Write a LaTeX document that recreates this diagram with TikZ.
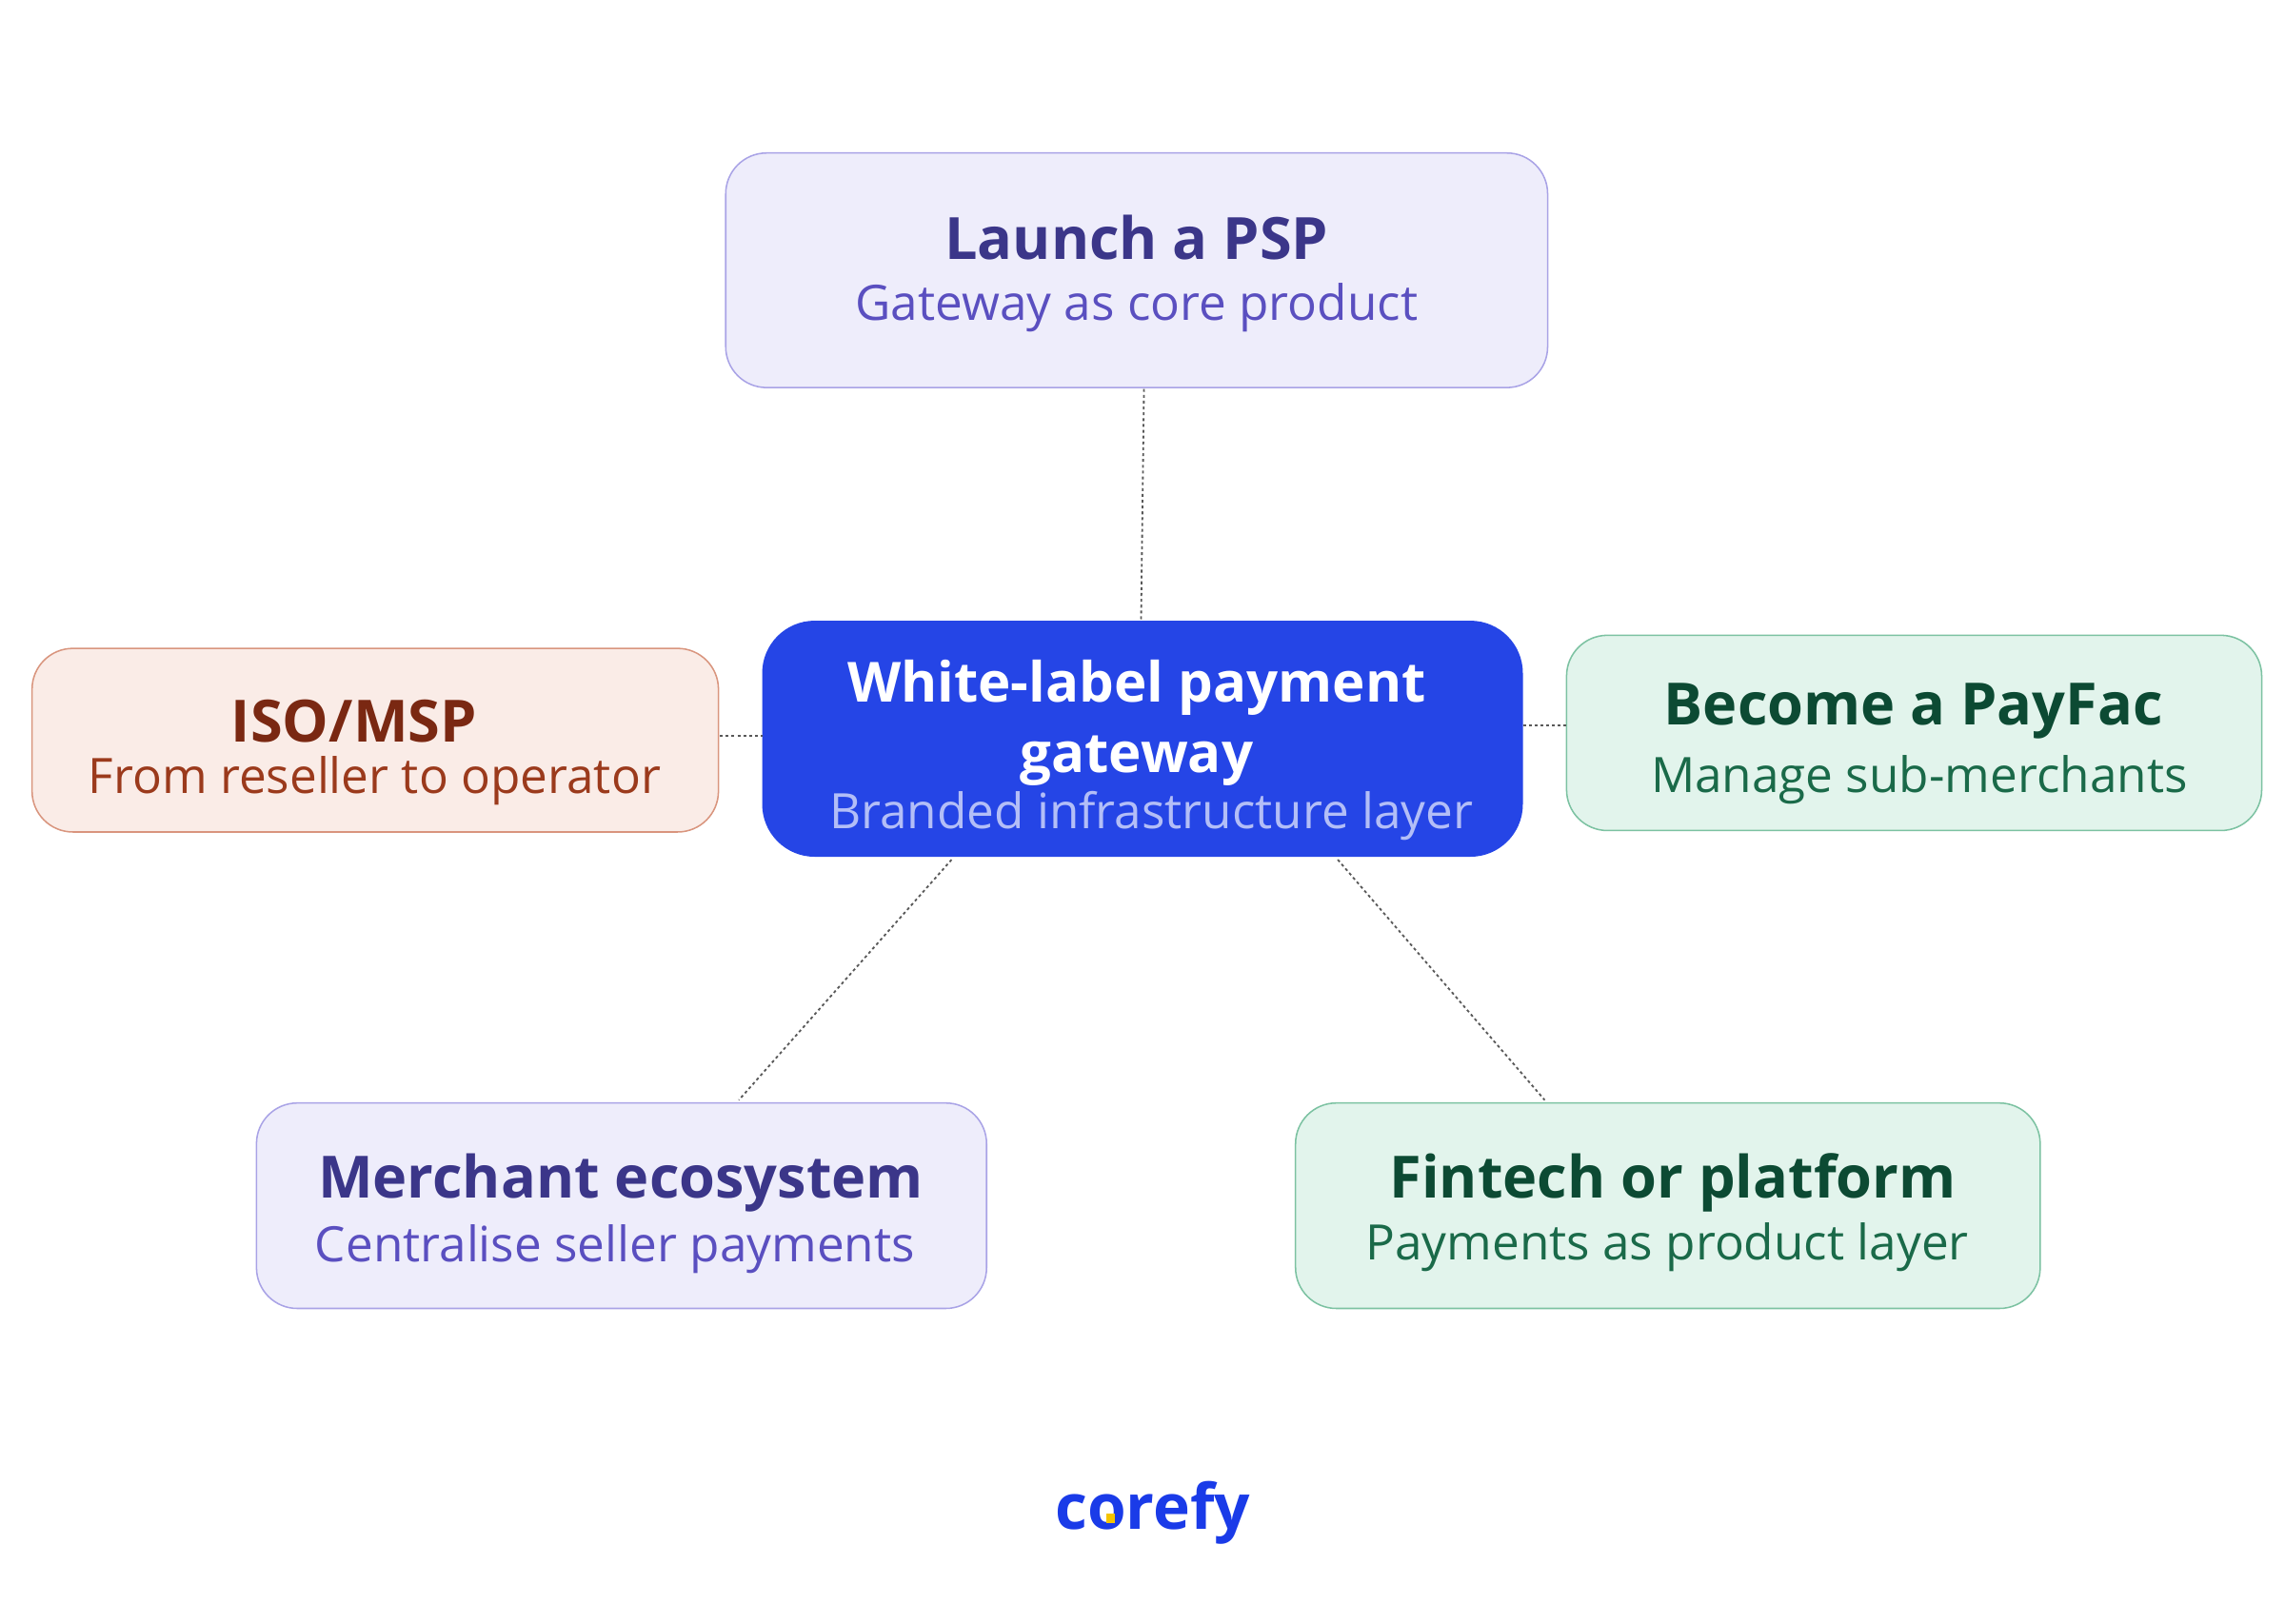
\documentclass[tikz,border=0pt]{standalone}
\usepackage{fontspec}
\setmainfont{Open Sans}
\definecolor{pfill}{HTML}{EEEDFB}\definecolor{pdraw}{HTML}{A9A3E6}
\definecolor{ptitle}{HTML}{3B3689}\definecolor{psub}{HTML}{5A4FC0}
\definecolor{gfill}{HTML}{E2F4EC}\definecolor{gdraw}{HTML}{7CC2A2}
\definecolor{gtitle}{HTML}{0C4A33}\definecolor{gsub}{HTML}{1A6A49}
\definecolor{ofill}{HTML}{FAECE7}\definecolor{odraw}{HTML}{D9957E}
\definecolor{otitle}{HTML}{7A2812}\definecolor{osub}{HTML}{9B3A1C}
\definecolor{cfill}{HTML}{2545E6}\definecolor{csub}{HTML}{B3BEF7}
\definecolor{logo}{HTML}{1A3BE8}\definecolor{dot}{HTML}{F5C400}
\begin{document}
\begin{tikzpicture}[x=1pt,y=-1pt,
  box/.style={rectangle,rounded corners=28pt,line width=1pt,inner sep=0pt},
  ttl/.style={font=\fontsize{40}{46}\selectfont\bfseries},
  sub/.style={font=\fontsize{33.5}{38}\selectfont},
  link/.style={draw=gray!70!black,line width=1.2pt,dash pattern=on 2pt off 2pt}]
\useasboundingbox (0,0) rectangle (1568,1114);
\node[box,fill=pfill,draw=pdraw,minimum width=564pt,minimum height=161pt] (psp) at (780,185.5) {};
\node[ttl,text=ptitle] (pspt) at (780,163) {Launch a PSP};
\node[sub,text=psub] (psps) at (780,211) {Gateway as core product};
\node[box,rounded corners=36pt,fill=cfill,minimum width=522pt,minimum height=162pt] (ctr) at (784,507) {};
\node[font=\fontsize{38}{48}\selectfont\bfseries,text=white,align=center] (ctrt) at (780,496) {White-label payment\\gateway};
\node[sub,text=csub] (ctrs) at (790,560) {Branded infrastructure layer};
\node[box,fill=ofill,draw=odraw,minimum width=471pt,minimum height=126pt] (iso) at (257.5,508) {};
\node[ttl,text=otitle] (isot) at (243,495) {ISO/MSP};
\node[sub,text=osub] (isos) at (257,536) {From reseller to operator};
\node[box,fill=gfill,draw=gdraw,minimum width=477pt,minimum height=134pt] (pf) at (1313.5,503) {};
\node[ttl,text=gtitle] (pft) at (1313,488) {Become a PayFac};
\node[sub,text=gsub] (pfs) at (1317,535) {Manage sub-merchants};
\node[box,fill=pfill,draw=pdraw,minimum width=501pt,minimum height=141pt] (me) at (426.5,827.5) {};
\node[ttl,text=ptitle] (met) at (426,812) {Merchant ecosystem};
\node[sub,text=psub] (mes) at (422,857) {Centralise seller payments};
\node[box,fill=gfill,draw=gdraw,minimum width=511pt,minimum height=141pt] (ft) at (1144.5,827.5) {};
\node[ttl,text=gtitle] (ftt) at (1148,812) {Fintech or platform};
\node[sub,text=gsub] (fts) at (1144,856) {Payments as product layer};
\coordinate (a1) at (785,267); \coordinate (a2) at (783,426);
\coordinate (b1) at (494,505); \coordinate (b2) at (523,505);
\coordinate (c1) at (1045,498); \coordinate (c2) at (1075,498);
\coordinate (d1) at (653,590); \coordinate (d2) at (507,755);
\coordinate (e1) at (918,590); \coordinate (e2) at (1060,755);
\draw[link] (a1)--(a2); \draw[link] (b1)--(b2); \draw[link] (c1)--(c2);
\draw[link] (d1)--(d2); \draw[link] (e1)--(e2);
\node[font=\fontsize{43}{48}\selectfont\bfseries,text=logo] (logo) at (791,1038) {corefy};
\fill[dot] (759,1039) rectangle (765,1045);
\end{tikzpicture}
\end{document}
